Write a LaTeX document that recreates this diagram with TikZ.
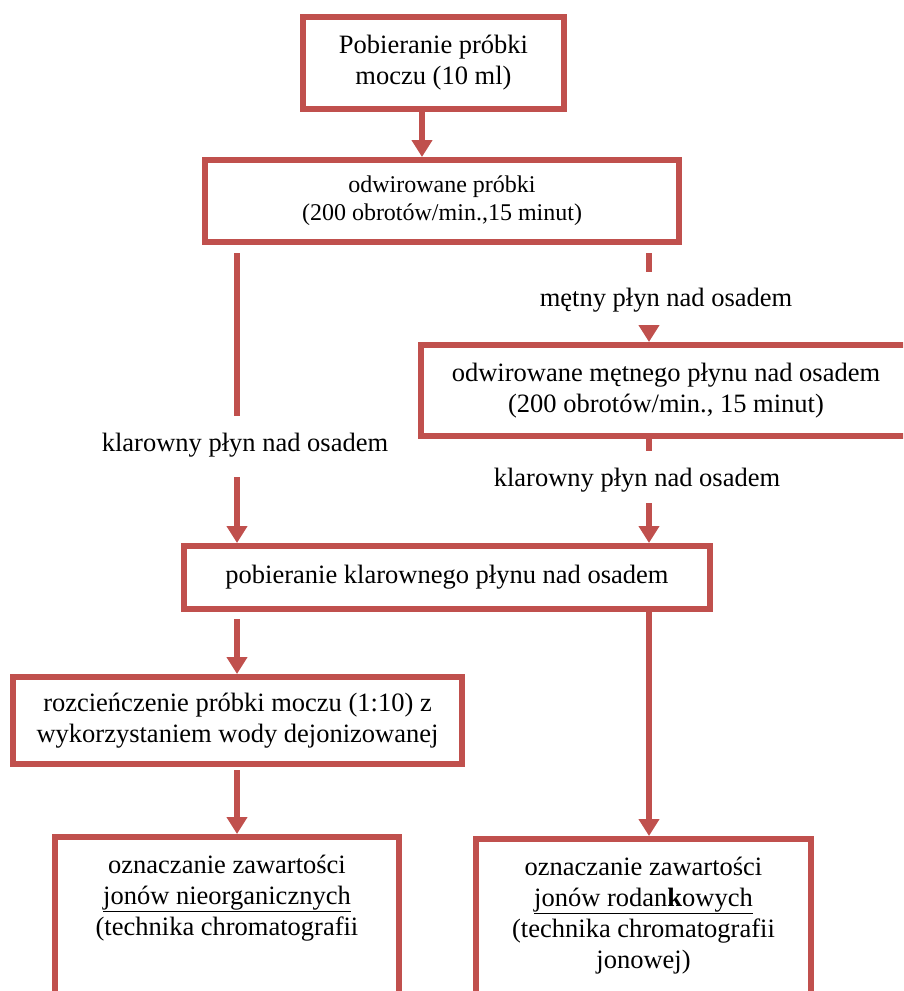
\documentclass[tikz,border=0pt]{standalone}
\usepackage{fontspec}
\setmainfont{Liberation Serif}
\usetikzlibrary{arrows.meta}
\definecolor{flowred}{RGB}{192,80,77}
\begin{document}
\begin{tikzpicture}[x=1pt,y=-1pt,
  box/.style={draw=flowred, line width=6pt, rectangle, inner sep=0pt, align=center,
    font=\fontsize{26.5}{31}\selectfont},
  lbl/.style={inner sep=0pt, anchor=base, font=\fontsize{26.5}{31}\selectfont},
  link/.style={draw=flowred, line width=6.5pt},
  arr/.style={link, -{Triangle[width=20pt,length=17pt]}}]
\useasboundingbox (0,0) rectangle (903,991);
\clip (0,0) rectangle (903,991);

% column positions of the vertical connectors
\coordinate (xa) at (422,0);
\coordinate (xl) at (237,0);
\coordinate (xr) at (649,0);

% process boxes
\node[box, minimum width=261pt, minimum height=92pt] (b1) at (433.5,63)
  {Pobieranie próbki\\moczu (10 ml)};
\node[box, minimum width=474pt, minimum height=82pt, font=\fontsize{24}{28}\selectfont] (b2) at (442,201)
  {odwirowane próbki\\(200 obrotów/min.,15 minut)};
\node[box, minimum width=490pt, minimum height=91pt] (b4) at (666,390.5)
  {odwirowane mętnego płynu nad osadem\\(200 obrotów/min., 15 minut)};
\node[box, minimum width=526pt, minimum height=63pt] (b3) at (447,577.5)
  {pobieranie klarownego płynu nad osadem};
\node[box, minimum width=449pt, minimum height=87pt] (b5) at (237.5,720.5)
  {rozcieńczenie próbki moczu (1:10) z\\wykorzystaniem wody dejonizowanej};
\node[box, anchor=north, minimum width=344pt] (b6) at (227,834)
  {\parbox[t][190pt][t]{330pt}{\centering\rule{0pt}{36pt}oznaczanie zawartości\\
   \underline{jonów nieorganicznych}\\(technika chromatografii}};
\node[box, anchor=north, minimum width=335pt] (b7) at (643.5,836)
  {\parbox[t][190pt][t]{325pt}{\centering\rule{0pt}{36pt}oznaczanie zawartości\\
   \underline{jonów rodan\textbf{k}owych}\\(technika chromatografii\\jonowej)}};

% labels on the connectors
\node[lbl, text height=35pt, text depth=26pt] (k1) at (245,451) {klarowny płyn nad osadem};
\node[lbl, text height=34pt, text depth=19pt] (m) at (666,306) {mętny płyn nad osadem};
\node[lbl, text height=35pt, text depth=17pt] (k2) at (637,486) {klarowny płyn nad osadem};

% connectors
\draw[arr] (b1.south -| xa) -- (b2.north -| xa);
\draw[link, shorten <=8pt] (b2.south -| xl) -- (k1.north -| xl);
\draw[arr] (k1.south -| xl) -- (b3.north -| xl);
\draw[link, shorten <=8pt] (b2.south -| xr) -- (m.north -| xr);
\draw[arr] (m.south -| xr) -- (b4.north -| xr);
\draw[link] (b4.south -| xr) -- (k2.north -| xr);
\draw[arr] (k2.south -| xr) -- (b3.north -| xr);
\draw[arr, shorten <=7pt] (b3.south -| xl) -- (b5.north -| xl);
\draw[arr] (b3.south -| xr) -- (b7.north -| xr);
\draw[arr, shorten <=3pt] (b5.south -| xl) -- (b6.north -| xl);
\end{tikzpicture}
\end{document}
